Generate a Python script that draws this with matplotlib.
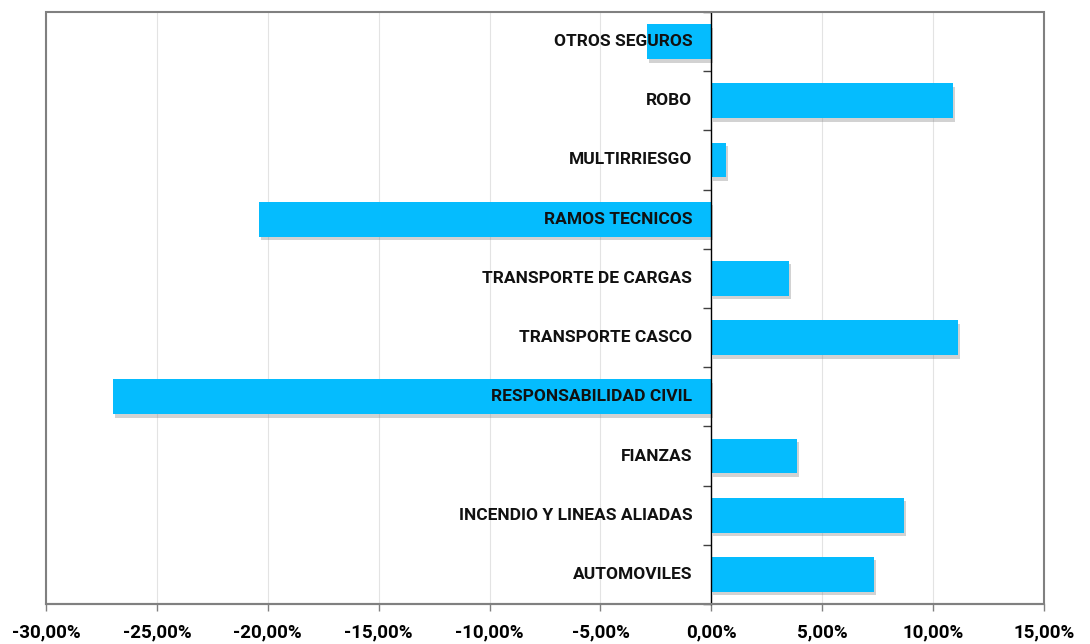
import matplotlib
matplotlib.use("Agg")
import matplotlib.pyplot as plt
import matplotlib.patheffects as pe
from matplotlib.patches import Rectangle
from matplotlib.ticker import FuncFormatter, FixedLocator
from matplotlib.transforms import offset_copy
import numpy as np

categories = ["AUTOMOVILES", "INCENDIO Y LINEAS ALIADAS", "FIANZAS",
              "RESPONSABILIDAD CIVIL", "TRANSPORTE CASCO", "TRANSPORTE DE CARGAS",
              "RAMOS TECNICOS", "MULTIRRIESGO", "ROBO", "OTROS SEGUROS"]
values = [7.35, 8.7, 3.85, -27.0, 11.1, 3.5, -20.4, 0.65, 10.9, -2.9]
xticks = [-30, -25, -20, -15, -10, -5, 0, 5, 10, 15]

plt.rcParams['font.family'] = ['Roboto', 'DejaVu Sans']

fig = plt.figure(figsize=(10.9, 6.44), dpi=100)
ax = fig.add_axes([0.0422, 0.0621, 0.9156, 0.9193])

y = np.arange(len(categories))
bars = ax.barh(y, values, height=0.59, color='#05BCFE', zorder=2)
for b in bars:
    b.set_path_effects([pe.SimplePatchShadow(offset=(1.5, -2.5), shadow_rgbFace='#808080', alpha=0.35), pe.Normal()])

ax.set_xlim(-30, 15)
ax.set_ylim(-0.5, len(categories) - 0.5)
ax.set_axisbelow(True)
ax.xaxis.set_major_locator(FixedLocator(xticks))
ax.xaxis.set_major_formatter(FuncFormatter(lambda v, p: f"{v:.2f}%".replace('.', ',')))
ax.grid(axis='x', color='#E3E3E3', lw=0.8, zorder=0)
ax.tick_params(axis='x', length=5, width=1, color='#808080', labelsize=13.5, pad=9)
for lab in ax.get_xticklabels():
    lab.set_fontweight('bold')

# y-axis at zero
ax.spines['left'].set_position(('data', 0))
ax.spines['left'].set_color('black')
ax.spines['left'].set_linewidth(1.0)
ax.spines['left'].set_zorder(3)
ax.spines['right'].set_visible(False)
ax.spines['top'].set_visible(False)
ax.spines['bottom'].set_color('#808080')
ax.spines['bottom'].set_linewidth(1.5)
ax.yaxis.set_major_locator(FixedLocator([]))
ax.yaxis.set_minor_locator(FixedLocator(np.arange(-0.5, len(categories), 1.0)))
ax.tick_params(axis='y', which='minor', length=6, width=1, color='#404040', direction='out')

# frame
ax.add_patch(Rectangle((0, 0), 1, 1, transform=ax.transAxes, fill=False,
                       edgecolor='#808080', lw=1.5, clip_on=False, zorder=4))

tr = offset_copy(ax.transData, fig=fig, x=-19, y=0, units='dots')
for i, name in enumerate(categories):
    ax.text(0, i, name, transform=tr, ha='right', va='center', fontsize=12.5,
            fontweight='bold', color='#111111', zorder=5)

fig.savefig("out.png", dpi=100)
